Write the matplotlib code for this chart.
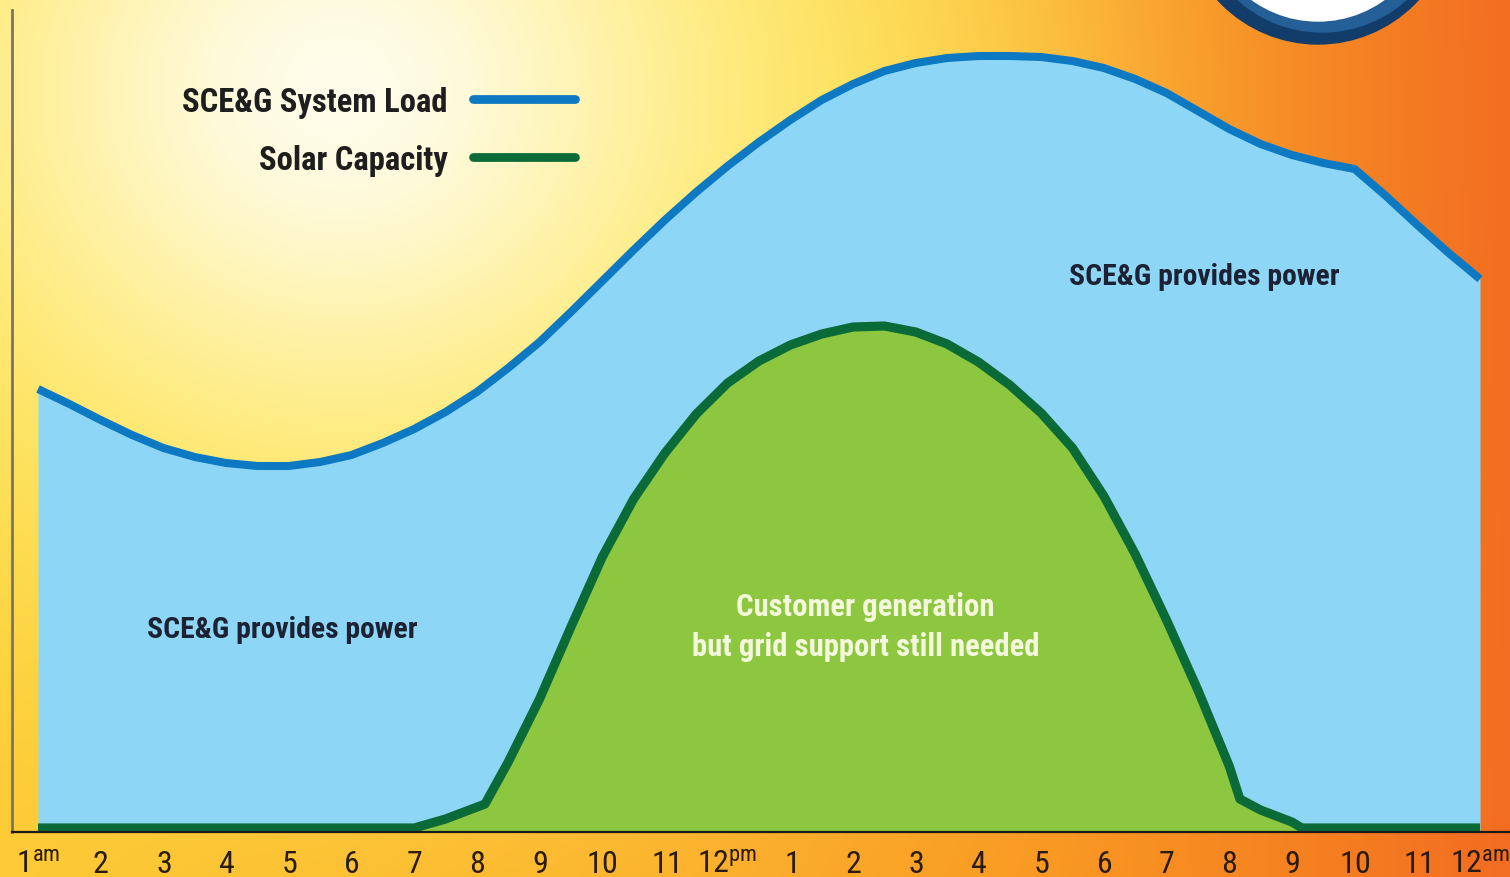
import numpy as np
import matplotlib
matplotlib.use("Agg")
import matplotlib.pyplot as plt
from matplotlib.lines import Line2D
from matplotlib.patches import Circle
from matplotlib import font_manager as fm

# ---------------- data ----------------
load_hours = [1, 1.5, 2, 2.5, 3, 3.5, 4, 4.5, 5, 5.5, 6, 6.5, 7, 7.5, 8, 8.5,
              9, 9.5, 10, 10.5, 11, 11.5, 12, 12.5, 13, 13.5, 14, 14.5, 15,
              15.5, 16, 16.5, 17, 17.5, 18, 18.5, 19, 19.5, 20, 20.5, 21,
              21.5, 22, 22.5, 23, 23.5, 24]
load_values = [443, 428, 412, 397, 384, 375, 369, 366, 366, 370, 377, 389,
               403, 420, 440, 464, 490, 520, 551, 582, 612, 640, 666, 690,
               712, 732, 748, 761, 769, 774, 776, 776, 775, 771, 764, 753,
               739, 721, 703, 688, 677, 669, 663, 636, 607, 579, 553]

solar_hours = [1, 2, 3, 4, 5, 6, 7, 7.5, 8.13, 8.5, 9, 9.5, 10, 10.5, 11,
               11.5, 12, 12.5, 13, 13.5, 14, 14.5, 15, 15.5, 16, 16.5, 17,
               17.5, 18, 18.5, 19, 19.5, 20, 20.17, 20.5, 21, 21.16, 22, 23, 24]
solar_values = [4, 4, 4, 4, 4, 4, 4, 13, 28, 70, 133, 205, 275, 333, 379,
                418, 449, 471, 487, 498, 505, 506, 500, 488, 470, 447, 419,
                384, 336, 278, 212, 142, 66, 33, 22, 10, 4, 4, 4, 4]

tick_hours = list(range(1, 25))
tick_labels = ["1^{am}", "2", "3", "4", "5", "6", "7", "8", "9", "10", "11",
               "12^{pm}", "1", "2", "3", "4", "5", "6", "7", "8", "9", "10",
               "11", "12^{am}"]
series_names = ["SCE&G System Load", "Solar Capacity"]
area_labels = ["SCE&G provides power", "SCE&G provides power",
               "Customer generation\nbut grid support still needed"]

# ---------------- font choice: a narrow sans if one is installed ----------------
avail = {}
for f in fm.fontManager.ttflist:
    avail.setdefault(f.name, set()).add(str(f.stretch))
FAM, STRETCH = "Roboto", "normal"
picked = False
for nm in ["Liberation Sans Narrow", "Roboto Condensed", "Open Sans Condensed",
           "Noto Sans Condensed", "Noto Sans SemiCondensed",
           "DejaVu Sans Condensed", "Arial Narrow"]:
    if nm in avail:
        FAM, STRETCH, picked = nm, "normal", True
        break
if not picked:
    for nm in ["Noto Sans", "Open Sans", "Roboto", "DejaVu Sans"]:
        st = avail.get(nm, set())
        cond = [s for s in st if "condensed" in s or s in ("300", "200", "100")]
        if cond:
            FAM, STRETCH = nm, ("condensed" if "condensed" in cond else cond[0])
            break
plt.rcParams["font.family"] = [FAM, "DejaVu Sans"]
plt.rcParams["font.stretch"] = STRETCH

# ---------------- styling ----------------
W, H = 1510, 878
LOAD_LINE = "#0C79C2"
LOAD_FILL = "#8ED6F6"
SOLAR_LINE = "#0B6B38"
SOLAR_FILL = "#8DC63F"

fig = plt.figure(figsize=(W / 100, H / 100), dpi=100)

# ---------------- background (sun gradient) ----------------
bg = fig.add_axes([0, 0, 1, 1], zorder=0)
bg.set_axis_off()
yy, xx = np.mgrid[0:H, 0:W].astype(float)
t = xx / W
stops_t = [0.0, 0.45, 0.7, 0.88, 1.0]
stops_c = np.array([[253, 200, 50], [251, 172, 40], [249, 150, 34],
                    [245, 126, 32], [242, 108, 33]], float) / 255
base = np.stack([np.interp(t, stops_t, stops_c[:, k]) for k in range(3)], -1)
cx, cy = 400, 120
d = np.sqrt(((xx - cx) / 1.28) ** 2 + ((yy - cy) / 1.15) ** 2)
w1 = 1 / (1 + np.exp((d - 510) / 90))
yellow = np.array([254, 231, 86]) / 255
img = base * (1 - w1[..., None]) + yellow * w1[..., None]
d2 = np.sqrt(((xx - 340) / 1.1) ** 2 + ((yy - 90) / 1.0) ** 2)
w2 = np.exp(-(d2 / 320) ** 2)
white = np.array([255, 252, 234]) / 255
img = img * (1 - w2[..., None]) + white * w2[..., None]
bg.imshow(np.clip(img, 0, 1), extent=(0, W, H, 0), aspect="auto",
          interpolation="bilinear")
bg.set_xlim(0, W)
bg.set_ylim(H, 0)
# logo ring at top right (decoration)
bg.add_patch(Circle((1318, -91), 136, color="#123C69", zorder=2))
bg.add_patch(Circle((1322, -93), 126, color="#245F97", zorder=2))
bg.add_patch(Circle((1318, -91), 113, color="#FFFFFF", zorder=3))

# ---------------- main chart ----------------
ax = fig.add_axes([12 / W, (H - 833) / H, (W - 12) / W, (833 - 11) / H],
                  zorder=1)
ax.patch.set_alpha(0)
ppu = (1480 - 38) / 23
ax.set_xlim(1 - 26 / ppu, 24 + 30 / ppu)
ax.set_ylim(0, 822)

ax.fill_between(load_hours, load_values, 0, color=LOAD_FILL, lw=0, zorder=1)
ax.fill_between(solar_hours, solar_values, 0, color=SOLAR_FILL, lw=0, zorder=2)
ax.plot(load_hours, load_values, color=LOAD_LINE, lw=5.8,
        solid_joinstyle="round", solid_capstyle="butt", zorder=3)
ax.plot(solar_hours, solar_values, color=SOLAR_LINE, lw=6.6,
        solid_joinstyle="round", solid_capstyle="butt", zorder=4)

for s in ["top", "right"]:
    ax.spines[s].set_visible(False)
ax.spines["bottom"].set_color("#1A1A1A")
ax.spines["bottom"].set_linewidth(1.6)
ax.spines["bottom"].set_zorder(5)
ax.spines["left"].set_color("#7A7468")
ax.spines["left"].set_linewidth(2.0)

ax.set_yticks([])
ax.set_xticks(tick_hours)
ax.set_xticklabels([r"$\mathregular{" + s + "}$" for s in tick_labels])
ax.tick_params(axis="x", length=0, pad=29, labelsize=23, labelcolor="#2A1C12")
for tk in ax.xaxis.get_major_ticks():
    tk.label1.set_verticalalignment("baseline")

# area annotations
t1 = ax.text(4.9, 203, area_labels[0], ha="center", va="center", fontsize=21.5,
             fontweight="bold", color="#1C2233", zorder=6)
t2 = ax.text(19.6, 556, area_labels[1], ha="center", va="center",
             fontsize=21.5, fontweight="bold", color="#1C2233", zorder=6)
t3 = ax.text(14.2, 206, area_labels[2], ha="center", va="center",
             fontsize=21.5, fontweight="bold", color="#F3F8DC",
             linespacing=1.38, zorder=6)

# legend (labels to the left of the line samples)
handles = [Line2D([], [], color=LOAD_LINE, lw=6.3, solid_capstyle="round"),
           Line2D([], [], color=SOLAR_LINE, lw=6.3, solid_capstyle="round")]
leg = ax.legend(handles, series_names, markerfirst=False, frameon=False,
                loc="upper right", bbox_to_anchor=(575 / W, 1 - 87 / H),
                bbox_transform=fig.transFigure, borderpad=0, borderaxespad=0,
                handlelength=3.0, handletextpad=0.75, labelspacing=0.76,
                prop={"family": [FAM, "DejaVu Sans"], "stretch": STRETCH,
                      "weight": "bold", "size": 24.5})
for txt in leg.get_texts():
    txt.set_color("#1E1E1E")

# scale text sizes so their widths match the reference widths
fig.canvas.draw()
r = fig.canvas.get_renderer()


def fit(obj, target, cap):
    w = obj.get_window_extent(r).width
    if w > 0:
        obj.set_fontsize(min(cap, obj.get_fontsize() * target / w))


fit(t1, 270, 26)
fit(t3, 348, 26)
t2.set_fontsize(t1.get_fontsize())
lt = leg.get_texts()
w0 = lt[0].get_window_extent(r).width
lsize = min(29, lt[0].get_fontsize() * 266 / w0)
for txt in lt:
    txt.set_fontsize(lsize)

fig.savefig("out.png", dpi=100)
